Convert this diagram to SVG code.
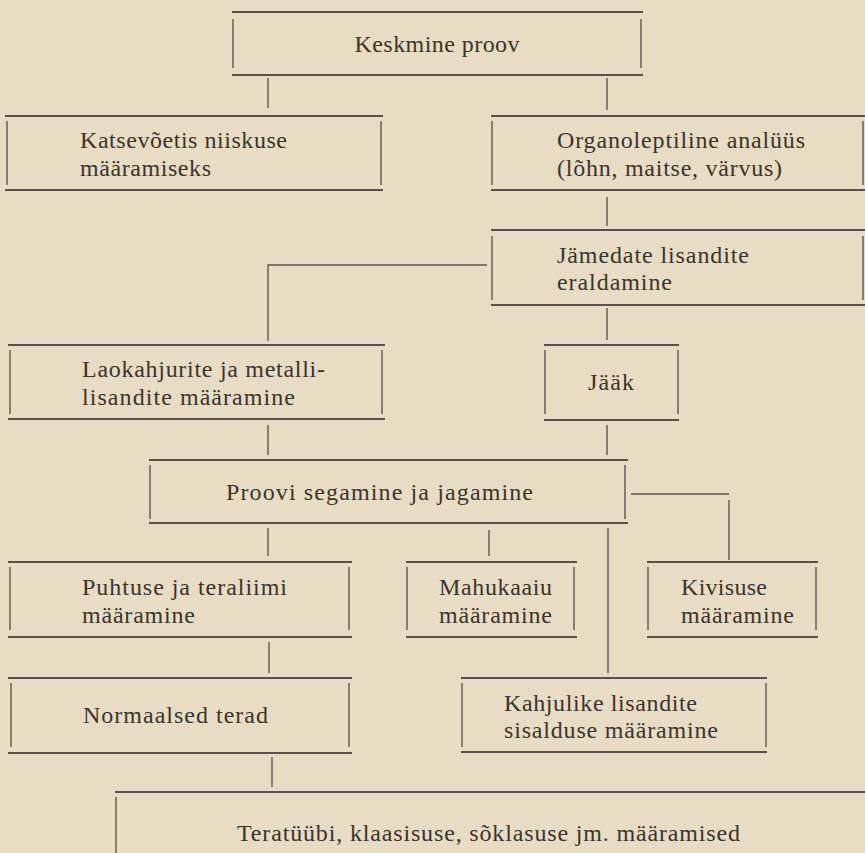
<svg xmlns="http://www.w3.org/2000/svg" width="865" height="853" viewBox="0 0 865 853">
<style>
.bg{fill:#e8dcc5}
.h{stroke:#5a5249;stroke-width:2.2;fill:none}
.v{stroke:#5f574e;stroke-width:1.4;fill:none}
.c{stroke:#5f574e;stroke-width:1.4;fill:none}
.t{font-family:"Liberation Serif","DejaVu Serif",serif;font-size:24px;fill:#3b342c}
.m{text-anchor:middle}
</style>
<rect class="bg" x="0" y="0" width="865" height="853"/>
<g id="connectors">
<path class="c" d="M268 78V108"/>
<path class="c" d="M607 78V110"/>
<path class="c" d="M607 197V226"/>
<path class="c" d="M487 265H268V341"/>
<path class="c" d="M607 308V340"/>
<path class="c" d="M268 425V455"/>
<path class="c" d="M607 425V455"/>
<path class="c" d="M631 494H729"/>
<path class="c" d="M729 500V560"/>
<path class="c" d="M268 528V556"/>
<path class="c" d="M489 530V556"/>
<path class="c" d="M608 528V673"/>
<path class="c" d="M269 642V673"/>
<path class="c" d="M272 757V787"/>
</g>
<g id="n1">
<path class="h" d="M232 12H643M232 75H643"/>
<path class="v" d="M233 19V68M641 19V68"/>
<text class="t m" x="437" y="52" textLength="165">Keskmine proov</text>
</g>
<g id="n2">
<path class="h" d="M5 116H383M5 190H383"/>
<path class="v" d="M7 121V185M381 121V185"/>
<text class="t" x="80" y="148" textLength="207">Katsevõetis niiskuse</text>
<text class="t" x="80" y="176" textLength="131">määramiseks</text>
</g>
<g id="n3">
<path class="h" d="M491 116H865M491 190H865"/>
<path class="v" d="M492 121V185M863 121V185"/>
<text class="t" x="557" y="148" textLength="248">Organoleptiline analüüs</text>
<text class="t" x="557" y="176" textLength="225">(lõhn, maitse, värvus)</text>
</g>
<g id="n4">
<path class="h" d="M491 230H865M491 305H865"/>
<path class="v" d="M492 236V300M863 236V300"/>
<text class="t" x="557" y="263" textLength="192">Jämedate lisandite</text>
<text class="t" x="557" y="290" textLength="115">eraldamine</text>
</g>
<g id="n5">
<path class="h" d="M8 345H385M8 419H385"/>
<path class="v" d="M10 350V414M382 350V414"/>
<text class="t" x="82" y="377" textLength="243">Laokahjurite ja metalli-</text>
<text class="t" x="82" y="405" textLength="213">lisandite määramine</text>
</g>
<g id="n6">
<path class="h" d="M544 345H679M544 420H679"/>
<path class="v" d="M545 350V414M678 350V414"/>
<text class="t m" x="611" y="390" textLength="46">Jääk</text>
</g>
<g id="n7">
<path class="h" d="M149 460H628M149 523H628"/>
<path class="v" d="M150 465V519M625 465V519"/>
<text class="t" x="226" y="500" textLength="307">Proovi segamine ja jagamine</text>
</g>
<g id="n8">
<path class="h" d="M8 562H352M8 637H352"/>
<path class="v" d="M10 567V630M349 567V630"/>
<text class="t" x="82" y="595" textLength="205">Puhtuse ja teraliimi</text>
<text class="t" x="82" y="623" textLength="113">määramine</text>
</g>
<g id="n9">
<path class="h" d="M406 562H577M406 637H577"/>
<path class="v" d="M407 567V630M574 567V630"/>
<text class="t" x="439" y="595" textLength="113">Mahukaaiu</text>
<text class="t" x="439" y="623" textLength="113">määramine</text>
</g>
<g id="n10">
<path class="h" d="M647 562H818M647 637H818"/>
<path class="v" d="M648 567V630M816 567V630"/>
<text class="t" x="681" y="595" textLength="86">Kivisuse</text>
<text class="t" x="681" y="623" textLength="113">määramine</text>
</g>
<g id="n11">
<path class="h" d="M8 678H352M8 753H352"/>
<path class="v" d="M11 683V747M349 683V747"/>
<text class="t" x="83" y="723" textLength="185">Normaalsed terad</text>
</g>
<g id="n12">
<path class="h" d="M461 678H767M461 752H767"/>
<path class="v" d="M462 683V747M766 683V747"/>
<text class="t" x="504" y="711" textLength="193">Kahjulike lisandite</text>
<text class="t" x="504" y="738" textLength="214">sisalduse määramine</text>
</g>
<g id="n13">
<path class="h" d="M115 792H865"/>
<path class="v" d="M116 797V853"/>
<text class="t" x="237" y="841" textLength="503">Teratüübi, klaasisuse, sõklasuse jm. määramised</text>
</g>
</svg>
